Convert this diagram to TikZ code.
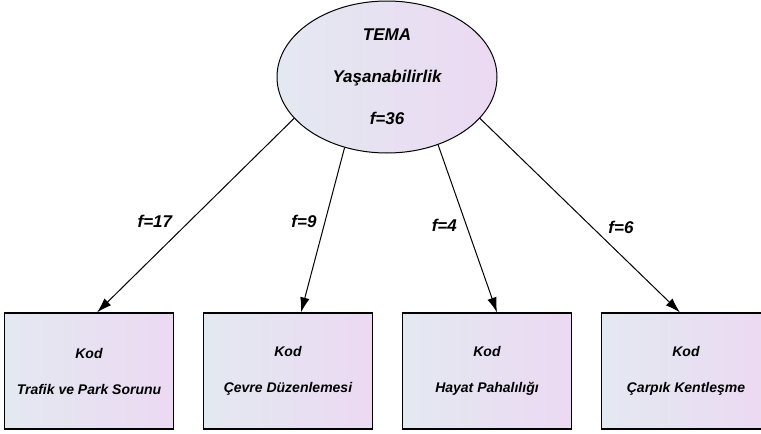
\documentclass[tikz,border=0pt]{standalone}
\usepackage{fontspec}
\setmainfont{Liberation Sans}
\usetikzlibrary{shapes.geometric,arrows.meta}
\definecolor{shadeL}{HTML}{E3E9F1}
\definecolor{shadeR}{HTML}{ECD9F2}
\newcommand{\kod}[1]{Kod\\[19pt]#1}

\begin{document}
\begin{tikzpicture}[x=1pt,y=1pt,>={Latex[length=15pt,width=9.5pt]},line width=1pt,
    tema/.style={ellipse,draw,line width=1pt,left color=shadeL,right color=shadeR,
      minimum width=220pt,minimum height=152pt,inner sep=0pt,align=center,
      font=\fontsize{17}{19}\selectfont\bfseries\itshape},
    kod/.style={rectangle,draw,line width=1.1pt,left color=shadeL,right color=shadeR,
      minimum width=169pt,minimum height=116pt,inner sep=0pt,align=center,
      font=\fontsize{14}{17}\selectfont\bfseries\itshape},
    frek/.style={font=\fontsize{17}{19}\selectfont\bfseries\itshape,inner sep=0pt}]
    \useasboundingbox (0,0) rectangle (761,-434);
    \node[tema] (T) at (387,-77) {TEMA\\[23pt]Yaşanabilirlik\\[23pt]f=36};
    \matrix[column sep={199pt,between origins}] at (387.5,-371) {
    \node[kod] (K1) {\kod{Trafik ve Park Sorunu}}; & \node[kod] (K2) {\kod{Çevre Düzenlemesi}}; &
    \node[kod] (K3) {\kod{Hayat Pahalılığı}};      & \node[kod] (K4) {\kod{Çarpık Kentleşme}}; \\
    };
    \draw[->] (T.-156) -- ([xshift=8pt]K1.north) node[frek,pos=.53,left=17pt] {f=17};
    \draw[->] (T.-121) -- ([xshift=13pt]K2.north) node[frek,pos=.45,left=8pt] {f=9};
    \draw[->] (T.-53) -- ([xshift=10pt]K3.north) node[frek,pos=.48,left=9pt] {f=4};
    \draw[->] (T.-24) -- ([xshift=-6pt]K4.north) node[frek,pos=.56,right=16pt] {f=6};
  \end{tikzpicture}
\end{document}
